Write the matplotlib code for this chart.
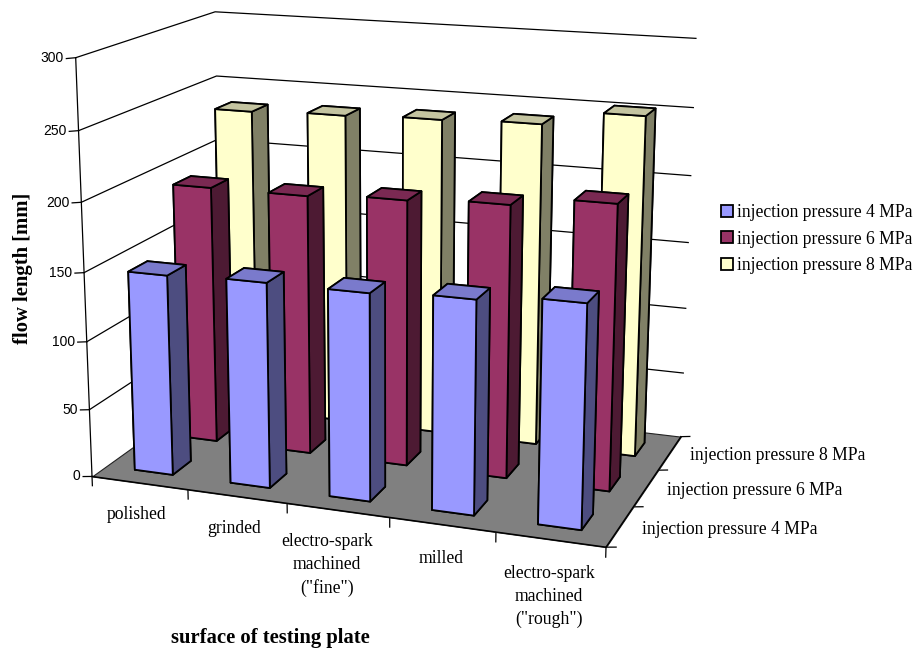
import matplotlib
matplotlib.use('Agg')
import matplotlib.pyplot as plt
from matplotlib.patches import Patch
from mpl_toolkits.mplot3d import proj3d
from mpl_toolkits.mplot3d.art3d import Poly3DCollection
import numpy as np

plt.rcParams['font.family'] = 'Liberation Serif'

surfaces = ['polished', 'grinded', 'electro-spark\nmachined\n("fine")', 'milled',
            'electro-spark\nmachined\n("rough")']
series = ['injection pressure 4 MPa', 'injection pressure 6 MPa', 'injection pressure 8 MPa']
p4 = [147, 149, 149, 152, 157]
p6 = [193, 193, 196, 199, 206]
p8 = [235, 237, 239, 241, 252]
values = [p4, p6, p8]
z_ticks = [0, 50, 100, 150, 200, 250, 300]

# front, top and side shade of each series
front = ['#9999ff', '#993366', '#ffffcc']
top = ['#7a7acc', '#7a2952', '#c4c4a0']
side = ['#4d4d80', '#4d1a33', '#808066']

# sideways nudge of the category labels
label_dx = [0.13, 0.12, 0.02, 0.10, 0.085]

fig = plt.figure(figsize=(9.14, 6.48), dpi=100)
ax = fig.add_axes([22.34 / 914, 18.87 / 648, 724.30 / 914, 724.30 / 648], projection='3d',
                  computed_zorder=False)
ax.set_xlim(0, 5)
ax.set_ylim(0, 3)
ax.set_zlim(0, 300)
ax.set_xticks([])
ax.set_yticks([])
ax.set_zticks([])
ax.view_init(15.0029, -70.09, -0.0301)
ax.set_proj_type('persp', focal_length=0.5386)
ax.set_box_aspect((1.2491, 0.7482, 1))
ax.set_axis_off()
ax.patch.set_alpha(0)

n_x = len(surfaces)
n_y = len(series)
line = dict(color='black', lw=0.9, zorder=1)


def label(x, y, z, s, **kw):
    # flat text anchored at a projected 3d point
    u, v, _ = proj3d.proj_transform(x, y, z, ax.get_proj())
    return ax.text2D(u, v, s, transform=ax.transData, zorder=6, **kw)


# floor
floor = Poly3DCollection([[(0, 0, 0), (n_x, 0, 0), (n_x, n_y, 0), (0, n_y, 0)]],
                         facecolor='#808080', edgecolor='#222222', linewidths=0.8, zorder=2)
ax.add_collection3d(floor)

# gridlines on the two walls
for z in z_ticks[1:]:
    ax.plot([0, 0, n_x], [0, n_y, n_y], [z, z, z], **line)

# value axis
ax.plot([0, 0], [0, 0], [0, 300], **line)
for z in z_ticks:
    ax.plot([-0.095, 0], [0, 0], [z - 1, z], **line)
    label(-0.125, 0, z - 1, str(z), family='Liberation Sans', fontsize=10,
          ha='right', va='center')

# category axis
ax.plot([0, n_x], [0, 0], [0, 0], color='black', lw=1, zorder=3)
for i in range(n_x + 1):
    ax.plot([i, i], [0, 0], [0, -7], **line)
for i, name in enumerate(surfaces):
    label(i + 0.5 + label_dx[i], -0.33, -7, name, fontsize=12.7, ha='center', va='top',
          linespacing=1.45)

# series axis
ax.plot([n_x, n_x], [0, n_y], [0, 0], color='black', lw=1, zorder=3)
for j in range(n_y + 1):
    ax.plot([n_x, n_x + 0.09], [j, j], [0, 1], **line)
for j, name in enumerate(series):
    label(n_x + 0.2, j + 0.5, 0, name, fontsize=12.7, ha='left', va='center')

# bars, back row first
width = 0.4
for j in reversed(range(n_y)):
    for i in range(n_x):
        bar = ax.bar3d(i + 0.3, j + 0.3, 0, width, width, values[j][i], shade=False,
                       color=[front[j], top[j], front[j], front[j], side[j], side[j]],
                       edgecolor='black', linewidth=1.3)
        bar.set_zorder(4 + (n_y - j) * 0.1)

handles = [Patch(facecolor=front[k], edgecolor='black', lw=1.3) for k in range(n_y)]
fig.legend(handles, series, loc='center left', bbox_to_anchor=(0.789, 0.631), frameon=False,
           fontsize=12.7, handlelength=0.68, handleheight=0.68, handletextpad=0.22,
           labelspacing=0.52, borderpad=0, borderaxespad=0)

fig.text(23 / 914, 1 - 268 / 648, 'flow length [mm]', rotation=90, fontsize=14.9,
         fontweight='bold', ha='center', va='center')
fig.text(270 / 914, 1 - 637.5 / 648, 'surface of testing plate', fontsize=14.9,
         fontweight='bold', ha='center', va='center')

fig.savefig('out.png', dpi=100)
